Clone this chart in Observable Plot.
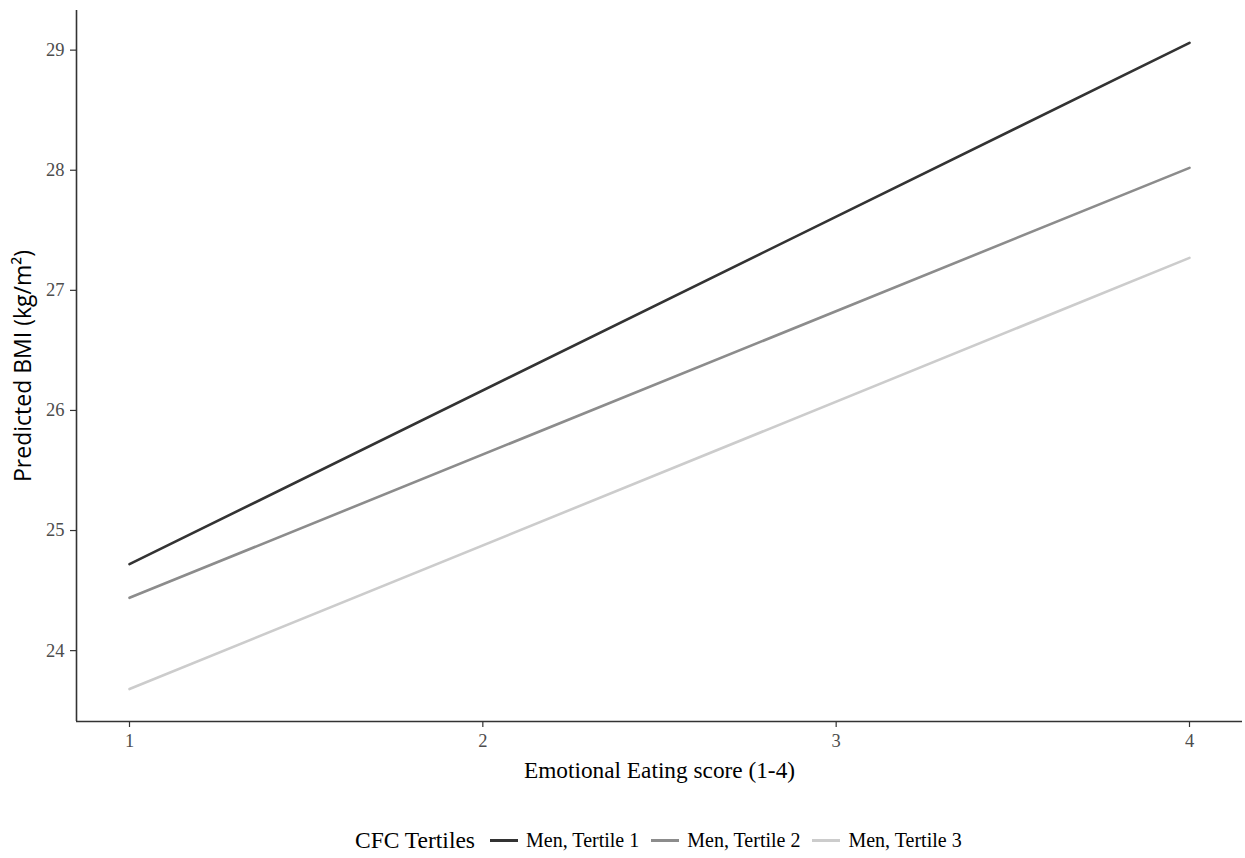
<!DOCTYPE html>
<html>
<head>
<meta charset="utf-8">
<script src="https://cdn.jsdelivr.net/npm/d3@7"></script>
<script src="https://cdn.jsdelivr.net/npm/@observablehq/plot@0.6"></script>
<style>
  body { margin: 0; background: #fff; font-family: "Liberation Serif", "Times New Roman", serif; }
  #chart svg { display: block; }
  #legend { position: absolute; top: 825px; left: 355px; display: flex; align-items: center; color: #000; white-space: nowrap; line-height: 30px; }
  #legend .title { font-size: 23.5px; margin-right: 15px; }
  #legend .item { display: flex; align-items: center; font-size: 20px; margin-right: 12px; }
  #legend .key { width: 28px; height: 3px; margin-right: 8px; }
</style>
</head>
<body>
<div id="chart"></div>
<div id="legend"></div>
<script>
// Data
const series = ["Men, Tertile 1", "Men, Tertile 2", "Men, Tertile 3"];
const xValues = [1, 4];
const tertile1 = [24.72, 29.06];
const tertile2 = [24.44, 28.02];
const tertile3 = [23.68, 27.27];
const colors = ["#333333", "#8c8c8c", "#cccccc"];
const xTicks = [1, 2, 3, 4];
const yTicks = [24, 25, 26, 27, 28, 29];

const allSeries = [tertile1, tertile2, tertile3];
const rows = [];
series.forEach((s, i) => xValues.forEach((x, j) => rows.push({series: s, x, y: allSeries[i][j]})));

const axisColor = "#333333";
const tickColor = "#4d4d4d";

const plot = Plot.plot({
  width: 1245,
  height: 800,
  marginLeft: 76,
  marginRight: 3,
  marginTop: 10,
  marginBottom: 79,
  style: { fontFamily: "Liberation Serif, Times New Roman, serif", fontSize: "18.5px", color: "#000", background: "#fff" },
  x: { domain: [0.85, 4.15] },
  y: { domain: [23.41, 29.33] },
  color: { domain: series, range: colors },
  marks: [
    Plot.axisX({ ticks: xTicks, tickFormat: d3.format("d"), tickSize: 6, tickPadding: 6, stroke: axisColor, strokeWidth: 1.2, fill: tickColor, fontSize: 18.5,
                 label: "Emotional Eating score (1-4)", labelAnchor: "center", labelArrow: "none", labelOffset: 56 }),
    Plot.axisY({ ticks: yTicks, tickFormat: d3.format("d"), tickSize: 6, tickPadding: 6, stroke: axisColor, strokeWidth: 1.2, fill: tickColor, fontSize: 18.5,
                 label: "Predicted BMI (kg/m²)", labelAnchor: "center", labelArrow: "none", labelOffset: 62 }),
    Plot.ruleY([23.41], { stroke: axisColor, strokeWidth: 1.6 }),
    Plot.ruleX([0.85], { stroke: axisColor, strokeWidth: 1.6 }),
    Plot.line(rows, { x: "x", y: "y", z: "series", stroke: "series", strokeWidth: 2.6 })
  ]
});

// Axis titles in black and larger
plot.querySelectorAll("[aria-label='x-axis label'] text").forEach(t => {
  t.setAttribute("fill", "#000");
  t.style.fontSize = "23.3px";
});
plot.querySelectorAll("[aria-label='y-axis label'] text").forEach(t => {
  t.setAttribute("fill", "#000");
  t.style.fontSize = "23px";
  t.style.fontFamily = "Open Sans, Noto Sans, sans-serif";
});
document.getElementById("chart").appendChild(plot);

const legend = document.getElementById("legend");
const title = document.createElement("span");
title.className = "title";
title.textContent = "CFC Tertiles";
legend.appendChild(title);
series.forEach((s, i) => {
  const item = document.createElement("span");
  item.className = "item";
  const key = document.createElement("span");
  key.className = "key";
  key.style.background = colors[i];
  item.appendChild(key);
  const label = document.createElement("span");
  label.textContent = s;
  item.appendChild(label);
  legend.appendChild(item);
});
</script>
</body>
</html>
